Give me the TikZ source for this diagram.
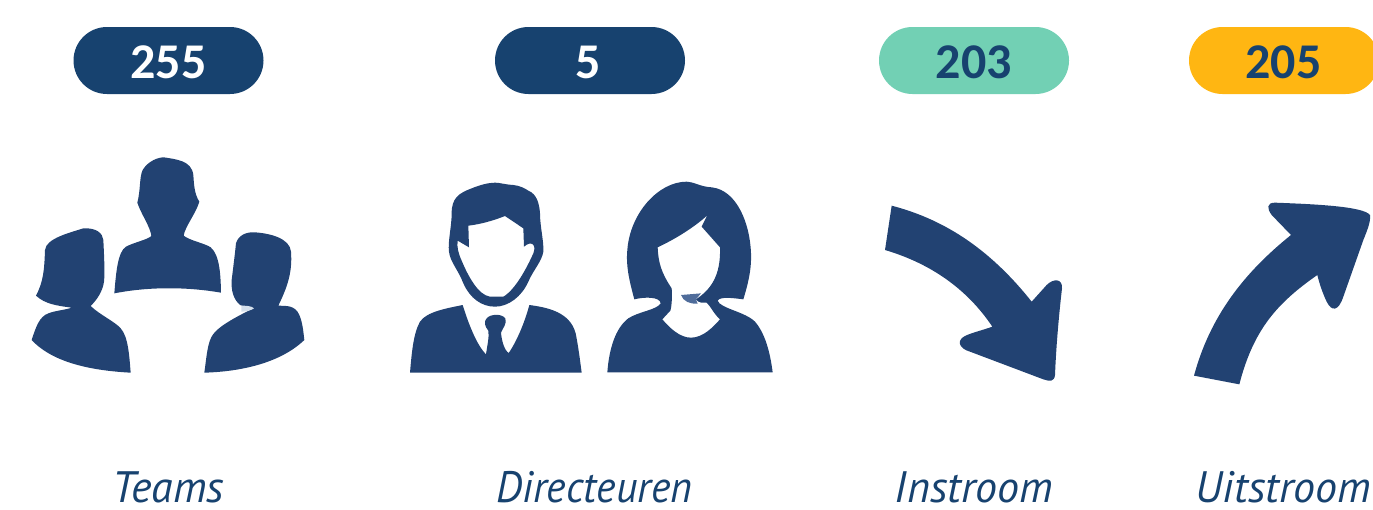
\documentclass[tikz,border=0pt]{standalone}
\usepackage{fontspec}
\setmainfont{PT Sans}
\newfontfamily\numfont{Carlito}
\definecolor{pillnavy}{HTML}{17426F}
\definecolor{pillmint}{HTML}{72D0B4}
\definecolor{pillamber}{HTML}{FFB612}
\definecolor{icon}{HTML}{224272}
\definecolor{micblue}{HTML}{4F6C9A}
\definecolor{spot}{HTML}{D5E0EC}
\usetikzlibrary{shapes.misc}
\tikzset{
  pill/.style={rounded rectangle,minimum width=190pt,minimum height=67pt,inner sep=0pt},
  pillnum/.style={inner sep=0pt,text=#1,font=\numfont\fontsize{50}{50}\selectfont\bfseries},
  caption/.style={inner sep=0pt,anchor=base,text=pillnavy,font=\fontsize{44}{44}\selectfont\itshape},
  glyph/.style={fill=icon,draw=none,even odd rule},
  zoomed/.style={x=.33333pt,y=-.33333pt}
}
\begin{document}
\begin{tikzpicture}[x=1pt,y=-1pt]
\useasboundingbox (0,0) rectangle (1373,509);
% pills
\node[pill,fill=pillnavy] (p1) at (168.5,60.5) {};
\node[pill,fill=pillnavy] (p2) at (590,60.5) {};
\node[pill,fill=pillmint] (p3) at (974,60.5) {};
\node[pill,fill=pillamber] (p4) at (1284,60.5) {};
\node[pillnum=white] (n1) at (168.5,62) {255};
\node[pillnum=white] (n2) at (588.5,62) {5};
\node[pillnum=pillnavy] (n3) at (974,62) {203};
\node[pillnum=pillnavy] (n4) at (1283.5,62) {205};
% captions
\node[caption] (c1) at (168.5,502) {Teams};
\node[caption,xscale=.95] (c2) at (594.5,502) {Directeuren};
\node[caption] (c3) at (974,502) {Instroom};
\node[caption] (c4) at (1283.5,502) {Uitstroom};
% team
\begin{scope}[shift={(20,140)},zoomed]
\fill[glyph] (283,460) .. controls (288,400) and (293,335) .. (318,320) .. controls (340,308) and (385,298) .. (394,288) .. controls (392,262) and (362,220) .. (352,188) .. controls (362,150) and (358,110) .. (368,90) .. controls (385,62) and (415,52) .. (432,52) .. controls (465,58) and (515,60) .. (520,105) .. controls (522,130) and (522,160) .. (538,185) .. controls (528,220) and (495,260) .. (491,287) .. controls (510,302) and (555,310) .. (572,322) .. controls (600,345) and (602,410) .. (603,458) .. controls (500,440) and (385,440) .. (283,460) -- cycle;
\fill[glyph] (35,600) .. controls (48,560) and (58,530) .. (85,520) .. controls (105,512) and (135,510) .. (155,503) .. controls (110,497) and (75,492) .. (48,467) .. controls (70,425) and (73,390) .. (75,330) .. controls (78,295) and (150,278) .. (190,265) .. controls (230,263) and (248,280) .. (250,300) .. controls (252,340) and (255,400) .. (252,425) .. controls (248,455) and (230,480) .. (212,498) .. controls (240,525) and (285,545) .. (302,565) .. controls (325,590) and (328,650) .. (332,698) .. controls (220,692) and (100,670) .. (35,600) -- cycle;
\fill[glyph] (553,698) .. controls (560,650) and (562,605) .. (580,582) .. controls (600,555) and (660,525) .. (700,505) -- (662,496) .. controls (640,480) and (633,450) .. (635,420) .. controls (640,380) and (645,340) .. (648,310) .. controls (655,285) and (680,275) .. (705,277) .. controls (750,280) and (810,295) .. (813,335) .. controls (818,400) and (800,445) .. (775,497) .. controls (800,498) and (825,495) .. (838,525) .. controls (848,548) and (850,575) .. (853,600) .. controls (780,670) and (660,695) .. (553,698) -- cycle;
\fill[spot] (664,497) .. controls (680,497) and (695,498) .. (702,505) .. controls (695,510) and (680,515) .. (664,515) -- cycle;
\end{scope}
% man
\begin{scope}[shift={(400,170)},zoomed]
\fill[glyph] (147,245) .. controls (143,215) and (155,170) .. (155,130) .. controls (155,85) and (175,70) .. (215,55) .. controls (240,45) and (265,38) .. (285,38) .. controls (300,38) and (310,43) .. (340,45) .. controls (360,47) and (375,55) .. (385,62) .. controls (410,72) and (418,100) .. (420,130) .. controls (420,170) and (432,215) .. (430,245) .. controls (425,275) and (400,300) .. (385,335) .. controls (365,380) and (325,410) .. (285,410) .. controls (245,410) and (210,385) .. (190,340) .. controls (175,300) and (150,275) .. (147,245) -- cycle
(173,212) .. controls (170,230) and (175,250) .. (185,272) .. controls (205,320) and (235,375) .. (270,380) -- (310,380) .. controls (345,360) and (380,295) .. (400,250) .. controls (410,225) and (395,210) .. (372,230) -- (370,175) -- (315,138) .. controls (280,152) and (240,163) .. (205,167) -- (207,232) -- cycle;
\fill[glyph] (30,608) .. controls (35,550) and (40,490) .. (60,455) .. controls (80,425) and (140,415) .. (188,405) .. controls (205,460) and (230,525) .. (258,553) .. controls (262,525) and (268,500) .. (265,482) .. controls (255,470) and (250,455) .. (260,445) .. controls (270,432) and (305,430) .. (316,445) .. controls (322,460) and (308,475) .. (303,488) .. controls (305,510) and (312,540) .. (326,549) .. controls (350,515) and (375,455) .. (388,405) .. controls (440,412) and (510,425) .. (527,490) .. controls (535,530) and (540,570) .. (545,608) -- cycle;
\end{scope}
% woman
\begin{scope}[shift={(595,170)},zoomed]
\fill[glyph] (37,607) .. controls (42,540) and (60,475) .. (100,445) .. controls (130,425) and (185,420) .. (197,400) .. controls (195,380) and (150,380) .. (118,388) .. controls (105,340) and (92,290) .. (97,240) .. controls (105,130) and (190,35) .. (275,35) .. controls (295,35) and (315,50) .. (350,52) .. controls (425,60) and (465,160) .. (468,250) .. controls (470,300) and (458,345) .. (445,388) .. controls (420,385) and (375,378) .. (368,392) .. controls (375,415) and (450,425) .. (480,455) .. controls (510,490) and (525,545) .. (533,607) -- cycle
(188,232) .. controls (190,280) and (200,310) .. (230,355) .. controls (232,380) and (230,410) .. (226,422) -- (202,448) .. controls (225,475) and (255,503) .. (288,503) .. controls (325,503) and (355,470) .. (375,448) .. controls (355,430) and (348,410) .. (335,398) .. controls (325,398) and (310,400) .. (303,388) .. controls (345,360) and (378,320) .. (375,232) -- (320,170) .. controls (325,160) and (330,148) .. (338,135) .. controls (300,170) and (245,205) .. (188,232) -- cycle;
\fill[micblue] (258,375) -- (318,370) -- (303,388) -- (308,401) .. controls (285,402) and (265,395) .. (258,375) -- cycle;
\end{scope}
% arrows
\begin{scope}[shift={(870,190)},zoomed]
\fill[glyph] (65,47) .. controls (210,85) and (350,165) .. (485,335) -- (530,285) .. controls (550,265) and (578,265) .. (576,295) .. controls (565,390) and (558,480) .. (555,555) .. controls (553,575) and (540,575) .. (520,568) -- (300,485) .. controls (265,475) and (260,450) .. (285,438) .. controls (305,428) and (340,420) .. (367,410) .. controls (290,295) and (180,220) .. (45,180) -- cycle;
\fill[glyph] (972,557) .. controls (1020,380) and (1120,250) .. (1263,135) -- (1205,75) .. controls (1190,55) and (1190,38) .. (1215,38) .. controls (1320,42) and (1480,48) .. (1500,75) .. controls (1503,95) and (1490,125) .. (1480,150) -- (1420,320) .. controls (1405,365) and (1385,365) .. (1370,335) .. controls (1358,310) and (1348,280) .. (1342,255) .. controls (1220,340) and (1150,420) .. (1108,583) -- cycle;
\end{scope}
\end{tikzpicture}
\end{document}
